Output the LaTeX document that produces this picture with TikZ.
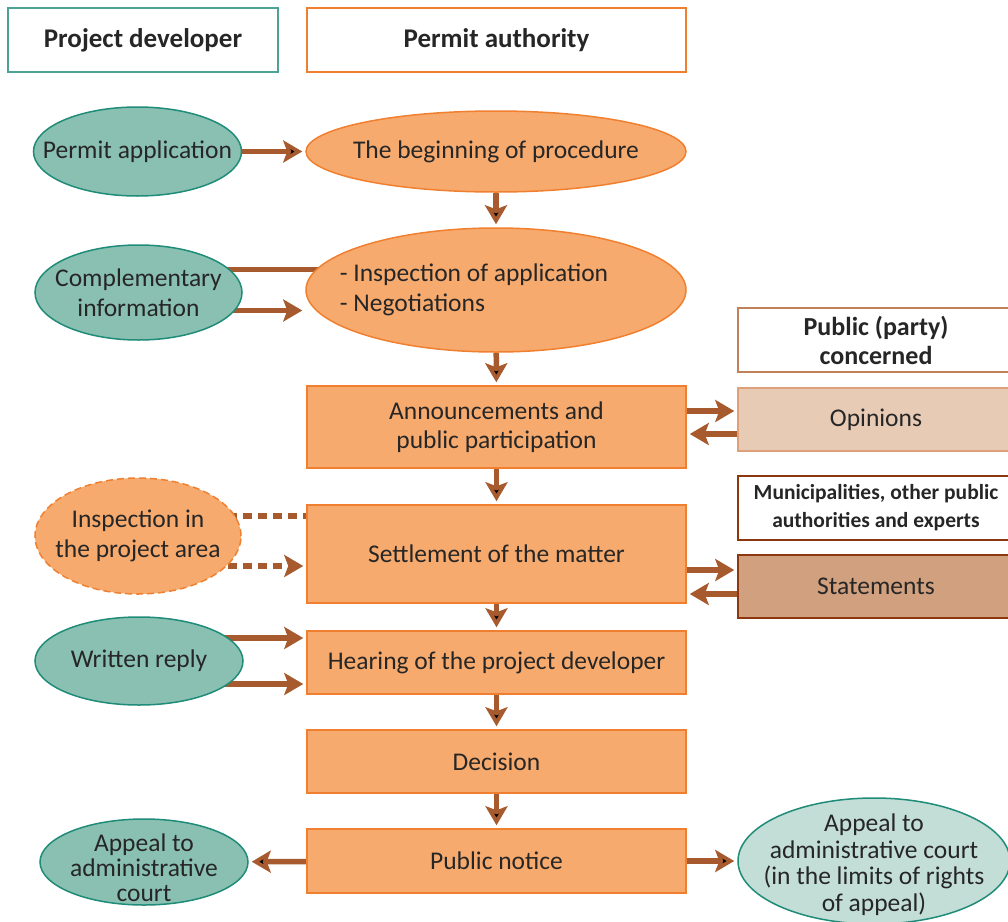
\documentclass[tikz,border=0pt]{standalone}
\usepackage{fontspec}
\setmainfont{Carlito}
\usetikzlibrary{shapes.geometric,arrows.meta,backgrounds}
\definecolor{orfill}{RGB}{247,170,110}
\definecolor{orline}{RGB}{240,128,48}
\definecolor{tlfill}{RGB}{138,192,177}
\definecolor{tlline}{RGB}{30,140,120}
\definecolor{ltfill}{RGB}{194,222,214}
\definecolor{arrc}{RGB}{166,90,46}
\definecolor{opfill}{RGB}{232,203,181}
\definecolor{opline}{RGB}{222,160,120}
\definecolor{stfill}{RGB}{209,160,127}
\definecolor{stline}{RGB}{140,55,15}
\definecolor{pbline}{RGB}{192,128,90}
\definecolor{txt}{RGB}{38,38,38}
\begin{document}
\begin{tikzpicture}[x=1pt,y=-1pt, every node/.style={font=\fontsize{25.5}{29.5}\selectfont, text=txt, align=center, inner sep=0pt}]
	\tikzstyle{block} = [rectangle,fill=orfill,draw=orline,line width=1.5pt,minimum width=379pt,minimum height=63pt]
	\tikzstyle{egg} = [ellipse,line width=1.5pt,inner sep=-300pt]
	\tikzstyle{oval} = [egg,fill=orfill,draw=orline,minimum width=380pt]
	\tikzstyle{dev} = [egg,fill=tlfill,draw=tlline,minimum width=208pt]
	\tikzstyle{head} = [rectangle,draw,line width=2pt,minimum height=64pt,font=\fontsize{27}{30}\selectfont\bfseries]
	\tikzstyle{side} = [rectangle,line width=2pt,minimum width=276pt,minimum height=63pt]
	\tikzstyle{arr} = [draw=arrc,line width=5.5pt,-{Stealth[length=19pt,width=22pt,inset=4pt]},shorten >=3pt]
	\useasboundingbox (0,0) rectangle (1008,921);
	% headers
	\node[head,draw=tlline!80,minimum width=270pt](hdev)at(143,40){Project developer};
	\node[head,draw=orline,minimum width=379pt](hauth)at(496.5,40){Permit authority};
	\node[head,side,draw=pbline,minimum height=64pt,font=\fontsize{26}{29}\selectfont\bfseries](hpub)at(876,340){Public (party)\\concerned};
	\node[head,side,draw=stline,minimum height=64pt,font=\fontsize{21.5}{28}\selectfont\bfseries](hmun)at(876,508){Municipalities, other public\\authorities and experts};
	% permit authority column
	\node[oval,minimum height=81pt](begin)at(496,151.5){The beginning of procedure};
	\node[oval,minimum height=124pt,align=left](insp)at(496,290){- Inspection of application\hspace*{44pt}\\- Negotiations};
	\node[block,minimum height=82pt](ann)at(496.5,427){Announcements and\\public participation};
	\node[block,minimum height=98pt](settle)at(496.5,554){Settlement of the matter};
	\node[block](hear)at(496.5,662.5){Hearing of the project developer};
	\node[block](dec)at(496.5,761.5){Decision};
	\node[block,minimum height=64pt](notice)at(496.5,861){Public notice};
	% project developer column
	\node[dev,minimum height=89pt](app)at(137.5,151.5){Permit application};
	\node[dev,minimum width=207pt,minimum height=95pt](compl)at(138.5,292.5){Complementary\\information};
	\node[egg,fill=orfill,draw=orline,dash pattern=on 7pt off 4pt,minimum width=206pt,minimum height=116pt](area)at(138,536){Inspection in\\the project area};
	\node[dev,minimum height=88pt](reply)at(139,661){Written reply};
	\node[dev,minimum height=86pt,font=\fontsize{25.5}{25}\selectfont](appl)at(144,862){\rule{0pt}{30pt}Appeal to\\administrative\\court};
	% public side
	\node[side,fill=opfill,draw=opline,line width=1.5pt](opin)at(876,419.5){Opinions};
	\node[side,fill=stfill,draw=stline,line width=1.5pt](stat)at(876,586.5){Statements};
	\node[egg,fill=ltfill,draw=tlline,minimum width=272pt,minimum height=126pt,font=\fontsize{25.5}{26.7}\selectfont](appr)at(874,861){\rule{0pt}{25pt}Appeal to\\administrative court\\(in the limits of rights\\of appeal)};
	\begin{scope}[on background layer]
	\path[arr] (app) edge (begin)
	(begin) edge (insp)
	(insp) edge (ann)
	(ann) edge (settle)
	(settle) edge (hear)
	(hear) edge (dec)
	(dec) edge (notice)
	(notice) edge (appl)
	(notice) edge (appr);
	\draw[draw=arrc,line width=5.5pt] ([yshift=23pt]compl.center) -- ([yshift=23pt]compl.center -| insp.center);
	\draw[arr] ([yshift=-18pt]compl.center) -- ([yshift=-18pt]compl.center -| insp.west);
	\draw[arrc,line width=5.5pt,dash pattern=on 9pt off 6pt] ([yshift=20pt]area.center) -- ([yshift=20pt]area.center -| settle.center);
	\draw[arr,dash pattern=on 9pt off 6pt] ([yshift=-30pt]area.center) -- ([yshift=-30pt]area.center -| settle.west);
	\draw[arr] ([yshift=23pt]reply.center) -- ([yshift=23pt]reply.center -| hear.west);
	\draw[arr] ([yshift=-23pt]reply.center) -- ([yshift=-23pt]reply.center -| hear.west);
	\draw[arr] ([yshift=8.5pt]opin.center -| ann.center) -- ([yshift=8.5pt]opin.west);
	\draw[arr] ([yshift=-14.5pt]opin.center) -- ([yshift=-14.5pt]opin.center -| ann.east);
	\draw[arr] ([yshift=16.5pt]stat.center -| settle.center) -- ([yshift=16.5pt]stat.west);
	\draw[arr] ([yshift=-7.5pt]stat.center) -- ([yshift=-7.5pt]stat.center -| settle.east);
	\end{scope}
\end{tikzpicture}
\end{document}
